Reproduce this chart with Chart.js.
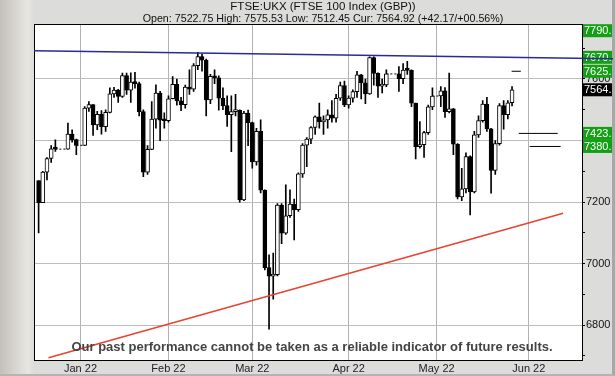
<!DOCTYPE html>
<html>
<head>
<meta charset="utf-8">
<script src="https://cdn.jsdelivr.net/npm/chart.js@4.4.1/dist/chart.umd.min.js"></script>
<style>
  html, body { margin: 0; padding: 0; background: #fff; }
  #frame {
    position: relative; width: 615px; height: 376px; box-sizing: border-box;
    background: linear-gradient(to right, #c3c0b9 0px, #e7e6e2 28px, #dcdcda 34px, #dcdcda 100%);
    border-right: 3px solid #a8a8a8; border-bottom: 2px solid #b4b4b4;
  }
  #chart { position: absolute; left: 0; top: 0; }
</style>
</head>
<body>
<div id="frame"><canvas id="chart" width="615" height="376"></canvas></div>
<script>
// FTSE 100 daily candles, 20 Dec 2021 - 26 May 2022
const dates = [
  '2021-12-20','2021-12-21','2021-12-22','2021-12-23','2021-12-24','2021-12-29','2021-12-30','2021-12-31',
  '2022-01-04','2022-01-05','2022-01-06','2022-01-07','2022-01-10','2022-01-11','2022-01-12','2022-01-13',
  '2022-01-14','2022-01-17','2022-01-18','2022-01-19','2022-01-20','2022-01-21','2022-01-24','2022-01-25',
  '2022-01-26','2022-01-27','2022-01-28','2022-01-31','2022-02-01','2022-02-02','2022-02-03','2022-02-04',
  '2022-02-07','2022-02-08','2022-02-09','2022-02-10','2022-02-11','2022-02-14','2022-02-15','2022-02-16',
  '2022-02-17','2022-02-18','2022-02-21','2022-02-22','2022-02-23','2022-02-24','2022-02-25','2022-02-28',
  '2022-03-01','2022-03-02','2022-03-03','2022-03-04','2022-03-07','2022-03-08','2022-03-09','2022-03-10',
  '2022-03-11','2022-03-14','2022-03-15','2022-03-16','2022-03-17','2022-03-18','2022-03-21','2022-03-22',
  '2022-03-23','2022-03-24','2022-03-25','2022-03-28','2022-03-29','2022-03-30','2022-03-31','2022-04-01',
  '2022-04-04','2022-04-05','2022-04-06','2022-04-07','2022-04-08','2022-04-11','2022-04-12','2022-04-13',
  '2022-04-14','2022-04-19','2022-04-20','2022-04-21','2022-04-22','2022-04-25','2022-04-26','2022-04-27',
  '2022-04-28','2022-04-29','2022-05-03','2022-05-04','2022-05-05','2022-05-06','2022-05-09','2022-05-10',
  '2022-05-11','2022-05-12','2022-05-13','2022-05-16','2022-05-17','2022-05-18','2022-05-19','2022-05-20',
  '2022-05-23','2022-05-24','2022-05-25','2022-05-26'
];
const opens = [
  7269.9, 7198.0, 7297.4, 7341.7, 7373.3, 7372.1, 7420.7, 7403.0,
  7384.5, 7505.2, 7516.9, 7450.4, 7485.3, 7445.0, 7491.4, 7551.7,
  7563.9, 7543.0, 7611.2, 7563.6, 7589.7, 7585.0, 7494.1, 7297.2,
  7371.5, 7469.8, 7554.3, 7466.1, 7464.4, 7535.8, 7583.0, 7528.8,
  7516.4, 7573.5, 7567.1, 7643.4, 7672.4, 7661.0, 7531.6, 7608.9,
  7603.8, 7537.4, 7513.6, 7484.3, 7494.2, 7498.2, 7207.4, 7489.5,
  7458.3, 7330.2, 7429.6, 7238.9, 6987.1, 6959.5, 6964.1, 7190.7,
  7099.1, 7155.6, 7193.5, 7175.7, 7291.7, 7385.3, 7404.7, 7442.4,
  7476.7, 7460.6, 7467.4, 7483.4, 7473.1, 7537.3, 7578.8, 7515.7,
  7537.9, 7559.0, 7613.7, 7587.7, 7551.8, 7669.6, 7618.3, 7576.7,
  7580.8, 7616.4, 7601.3, 7629.2, 7628.0, 7521.7, 7380.5, 7386.2,
  7425.6, 7509.2, 7544.6, 7561.3, 7493.5, 7503.3, 7387.9, 7216.6,
  7243.2, 7347.7, 7233.3, 7418.2, 7464.8, 7518.4, 7438.1, 7302.7,
  7390.0, 7513.4, 7484.4, 7522.8
];
const highs = [
  7270.0, 7300.0, 7345.0, 7384.0, 7402.0, 7457.0, 7435.0, 7405.0,
  7510.0, 7527.0, 7517.0, 7495.0, 7497.0, 7500.0, 7571.0, 7573.0,
  7566.0, 7619.0, 7619.0, 7620.0, 7622.0, 7590.0, 7500.0, 7384.0,
  7527.0, 7581.0, 7560.0, 7490.0, 7545.0, 7608.0, 7600.0, 7540.0,
  7580.0, 7630.0, 7650.0, 7687.0, 7680.0, 7665.0, 7615.0, 7630.0,
  7610.0, 7571.0, 7545.0, 7545.0, 7550.0, 7500.0, 7495.0, 7499.0,
  7460.0, 7440.0, 7467.0, 7240.0, 7029.0, 7034.0, 7195.0, 7195.0,
  7256.0, 7240.0, 7210.0, 7295.0, 7390.0, 7410.0, 7445.0, 7480.0,
  7522.0, 7480.0, 7500.0, 7530.0, 7550.0, 7590.0, 7593.0, 7545.0,
  7565.0, 7625.0, 7615.0, 7600.0, 7672.0, 7672.0, 7620.0, 7600.0,
  7630.0, 7640.0, 7650.0, 7657.0, 7630.0, 7522.0, 7462.0, 7430.0,
  7515.0, 7571.0, 7575.0, 7572.0, 7619.0, 7505.0, 7390.0, 7310.0,
  7360.0, 7350.0, 7430.0, 7480.0, 7530.0, 7540.0, 7440.0, 7400.0,
  7520.0, 7530.0, 7530.0, 7575.5
];
const lows = [
  7100.0, 7198.0, 7272.0, 7329.0, 7365.0, 7372.0, 7395.0, 7354.0,
  7384.0, 7495.0, 7417.0, 7435.0, 7421.0, 7430.0, 7490.0, 7540.0,
  7524.0, 7540.0, 7550.0, 7524.0, 7570.0, 7480.0, 7283.0, 7290.0,
  7370.0, 7440.0, 7400.0, 7440.0, 7460.0, 7535.0, 7515.0, 7497.0,
  7505.0, 7550.0, 7560.0, 7630.0, 7625.0, 7480.0, 7520.0, 7585.0,
  7499.0, 7500.0, 7446.0, 7364.0, 7480.0, 7200.0, 7205.0, 7383.0,
  7310.0, 7320.0, 7230.0, 6980.0, 6787.0, 6885.0, 6960.0, 7065.0,
  7095.0, 7150.0, 7077.0, 7170.0, 7280.0, 7315.0, 7390.0, 7420.0,
  7440.0, 7420.0, 7440.0, 7460.0, 7460.0, 7530.0, 7510.0, 7505.0,
  7525.0, 7540.0, 7535.0, 7520.0, 7550.0, 7580.0, 7540.0, 7555.0,
  7575.0, 7560.0, 7585.0, 7615.0, 7510.0, 7340.0, 7375.0, 7345.0,
  7420.0, 7500.0, 7510.0, 7475.0, 7490.0, 7354.0, 7210.0, 7205.0,
  7230.0, 7158.0, 7230.0, 7410.0, 7460.0, 7430.0, 7229.0, 7290.0,
  7385.0, 7437.0, 7470.0, 7512.5
];
const closes = [
  7198.0, 7297.4, 7341.7, 7373.3, 7372.1, 7420.7, 7403.0, 7384.5,
  7505.2, 7516.9, 7450.4, 7485.3, 7445.0, 7491.4, 7551.7, 7563.9,
  7543.0, 7611.2, 7563.6, 7589.7, 7585.0, 7494.1, 7297.2, 7371.5,
  7469.8, 7554.3, 7466.1, 7464.4, 7535.8, 7583.0, 7528.8, 7516.4,
  7573.5, 7567.1, 7643.4, 7672.4, 7661.0, 7531.6, 7608.9, 7603.8,
  7537.4, 7513.6, 7484.3, 7494.2, 7498.2, 7207.4, 7489.5, 7458.3,
  7330.2, 7429.6, 7238.9, 6987.1, 6959.5, 6964.1, 7190.7, 7099.1,
  7155.6, 7193.5, 7175.7, 7291.7, 7385.3, 7404.7, 7442.4, 7476.7,
  7460.6, 7467.4, 7483.4, 7473.1, 7537.3, 7578.8, 7515.7, 7537.9,
  7559.0, 7613.7, 7587.7, 7551.8, 7669.6, 7618.3, 7576.7, 7580.8,
  7616.4, 7601.3, 7629.2, 7628.0, 7521.7, 7380.5, 7386.2, 7425.6,
  7509.2, 7544.6, 7561.3, 7493.5, 7503.3, 7387.9, 7216.6, 7243.2,
  7347.7, 7233.3, 7418.2, 7464.8, 7518.4, 7438.1, 7302.7, 7390.0,
  7513.4, 7484.4, 7522.8, 7564.9
];

// x axis month ticks (first weekday of each month)
const monthTicks = ['2022-01-03','2022-02-01','2022-03-01','2022-04-01','2022-05-02','2022-06-01'];
const monthLabels = ['Jan 22','Feb 22','Mar 22','Apr 22','May 22','Jun 22'];

// y axis
const yTicks = [6700, 6800, 6900, 7000, 7100, 7200, 7300, 7400, 7500, 7600, 7700];
const yLabelled = [6800, 7000, 7200, 7400, 7600];

// price levels on the right axis
const levels = [7790.2, 7670.4, 7625.1, 7423.2, 7380.8];
const currentPrice = 7564.92;

// trend lines (x in weekday index since 20 Dec 2021)
const resistX = [-1.1, 137.1];
const resistY = [7692, 7665.6];
const supportX = [2.36, 125.2];
const supportY = [6694, 7164];

// projected target segments
const targetFrom = [112.9, 114.6, 117.2];
const targetTo = [115.1, 123.9, 124.6];
const targetLevel = [7625.1, 7423.2, 7380.8];

const FONT = '"Liberation Sans", Arial, sans-serif';

// weekday index counted from Monday 20 Dec 2021
function dayIndex(s) {
    const p = s.split('-').map(Number);
    const days = Math.round((Date.UTC(p[0], p[1] - 1, p[2]) - Date.UTC(2021, 11, 20)) / 86400000);
    return Math.floor(days / 7) * 5 + Math.min(days % 7, 5);
}

const idx = dates.map(dayIndex);
const wickData = idx.map((x, i) => ({ x: x, y: [lows[i], highs[i]] }));
const bodyData = idx.map((x, i) => ({ x: x, y: [opens[i], closes[i]] }));
const bodyColors = closes.map((c, i) => c >= opens[i] ? '#ffffff' : '#000000');

// dashed line over market holidays
const gapData = [];
for (let i = 1; i < idx.length; i++) {
    if (idx[i] - idx[i - 1] > 1) {
        gapData.push({ x: idx[i - 1], y: closes[i - 1] });
        gapData.push({ x: idx[i], y: closes[i - 1] });
        gapData.push({ x: idx[i] + 0.01, y: null });
    }
}

const targetData = [];
targetLevel.forEach((v, i) => {
    targetData.push({ x: targetFrom[i], y: v });
    targetData.push({ x: targetTo[i], y: v });
    targetData.push({ x: targetTo[i] + 0.01, y: null });
});

const framePlugin = {
    id: 'frame',
    beforeDraw(chart) {
        const ctx = chart.ctx, a = chart.chartArea;
        ctx.save();
        ctx.fillStyle = '#ffffff';
        ctx.fillRect(a.left, a.top, a.right - a.left, a.bottom - a.top);
        ctx.restore();
    },
    beforeDatasetsDraw(chart) {
        const ctx = chart.ctx, a = chart.chartArea, y = chart.scales.y;
        ctx.save();
        ctx.strokeStyle = '#000';
        ctx.lineWidth = 1;
        ctx.strokeRect(Math.round(a.left) + 0.5, Math.round(a.top) + 0.5,
            Math.round(a.right - a.left), Math.round(a.bottom - a.top));

        // level boxes on the right axis
        ctx.beginPath();
        ctx.rect(a.right + 1, 0, 612 - a.right - 1, chart.height);
        ctx.clip();
        ctx.font = '11px ' + FONT;
        ctx.textBaseline = 'middle';
        const drawBox = (v, color) => {
            const top = Math.max(a.top, y.getPixelForValue(v) - 6.5);
            ctx.fillStyle = color;
            ctx.fillRect(a.right + 1, top, 40, 13);
            ctx.fillStyle = '#ffffff';
            ctx.fillText(v.toFixed(1), a.right + 2, top + 7);
        };
        levels.forEach(v => drawBox(v, '#14a014'));
        drawBox(currentPrice, '#000000');
        ctx.restore();
    },
    afterDatasetsDraw(chart) {
        const ctx = chart.ctx;
        ctx.save();
        ctx.font = 'bold 13px ' + FONT;
        ctx.fillStyle = '#444444';
        ctx.textAlign = 'center';
        ctx.textBaseline = 'middle';
        ctx.fillText('Our past performance cannot be taken as a reliable indicator of future results.', 312, 347);
        ctx.restore();
    }
};

new Chart(document.getElementById('chart'), {
    type: 'bar',
    data: {
        datasets: [
            {
                type: 'line', data: resistX.map((x, i) => ({ x: x, y: resistY[i] })),
                borderColor: '#2a2a9a', borderWidth: 1.5, pointRadius: 0, clip: false, order: 1
            },
            {
                type: 'line', data: supportX.map((x, i) => ({ x: x, y: supportY[i] })),
                borderColor: '#e8432e', borderWidth: 1.5, pointRadius: 0, order: 1
            },
            {
                type: 'line', data: targetData, borderColor: '#000', borderWidth: 1,
                pointRadius: 0, spanGaps: false, order: 1
            },
            {
                type: 'line', data: gapData, borderColor: '#000', borderWidth: 1,
                borderDash: [2, 2], pointRadius: 0, spanGaps: false, order: 6
            },
            {
                data: wickData, backgroundColor: '#000', barThickness: 1,
                grouped: false, order: 5
            },
            {
                data: bodyData, backgroundColor: bodyColors, borderColor: '#000', borderWidth: 1,
                borderSkipped: false, barThickness: 4, minBarLength: 2, grouped: false, order: 4
            }
        ]
    },
    options: {
        responsive: false,
        animation: false,
        events: [],
        layout: { padding: { left: 34, top: 0, right: 3, bottom: 2 } },
        plugins: {
            legend: { display: false },
            tooltip: { enabled: false },
            title: {
                display: true, text: 'FTSE:UKX (FTSE 100 Index (GBP))', color: '#111',
                font: { family: FONT, size: 11.5, weight: 'normal', lineHeight: 1 },
                padding: { top: 1.5, bottom: 0 }
            },
            subtitle: {
                display: true,
                text: 'Open: 7522.75 High: 7575.53 Low: 7512.45 Cur: 7564.92 (+42.17/+00.56%)',
                color: '#111',
                font: { family: FONT, size: 10.7, weight: 'normal', lineHeight: 1 },
                padding: { top: 0.5, bottom: 0 }
            }
        },
        scales: {
            x: {
                type: 'linear', min: -1.1, max: 129.7, offset: false,
                afterBuildTicks: s => { s.ticks = monthTicks.map(d => ({ value: dayIndex(d) })); },
                afterFit: s => { s.height = 14; },
                grid: { color: '#b2b2b2', drawTicks: false, offset: false },
                border: { display: false },
                ticks: {
                    callback: (v, i) => monthLabels[i], autoSkip: false, maxRotation: 0,
                    padding: 2, color: '#222', font: { family: FONT, size: 11 }
                }
            },
            y: {
                position: 'right', min: 6687, max: 7778, beginAtZero: false,
                afterBuildTicks: s => { s.ticks = yTicks.map(v => ({ value: v })); },
                afterFit: s => { s.width = 30; },
                grid: {
                    color: c => yLabelled.includes(c.tick && c.tick.value) ? '#bdbdbd' : 'rgba(0,0,0,0)',
                    tickColor: '#000', tickLength: 3
                },
                border: { display: false },
                ticks: {
                    callback: v => yLabelled.includes(v) ? String(v) : '', autoSkip: false,
                    padding: 1, color: '#111', font: { family: FONT, size: 11 }
                }
            }
        }
    },
    plugins: [framePlugin]
});
</script>
</body>
</html>
